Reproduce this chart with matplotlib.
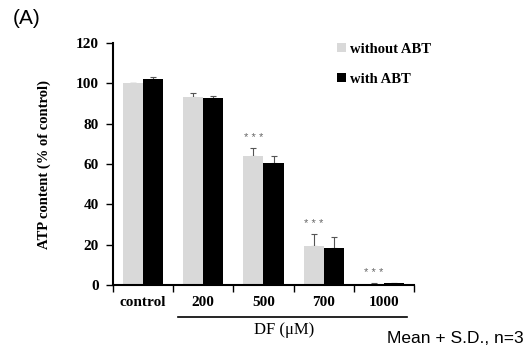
import numpy as np
import matplotlib
matplotlib.use("Agg")
import matplotlib.pyplot as plt

groups = ['control', '200', '500', '700', '1000']
without_abt = [100.0, 93.5, 64.0, 19.3, 0.7]
without_err = [0.4, 2.0, 3.8, 6.0, 0.5]
with_abt = [102.0, 92.6, 60.5, 18.2, 0.8]
with_err = [1.0, 1.0, 3.4, 5.5, 0.3]
stars = ['', '', '* * *', '* * *', '* * *']

serif = 'Liberation Serif'
sans = 'Liberation Sans'

fig = plt.figure(figsize=(5.28, 3.48), dpi=100)
ax = fig.add_axes([0.214, 0.181, 0.570, 0.695])

x = np.arange(len(groups))
w = 1/3.
ax.bar(x - w/2, without_abt, w, color='#d9d9d9', label='without ABT', zorder=2)
ax.bar(x + w/2, with_abt, w, color='black', label='with ABT', zorder=2)
ax.errorbar(x - w/2, without_abt, yerr=[np.zeros(5), without_err], fmt='none',
            ecolor='#555555', elinewidth=0.8, capsize=2.5, capthick=0.8, zorder=1)
ax.errorbar(x + w/2, with_abt, yerr=[np.zeros(5), with_err], fmt='none',
            ecolor='#555555', elinewidth=0.8, capsize=2.5, capthick=0.8, zorder=1)

for i in range(len(groups)):
    if stars[i]:
        ax.text(x[i] - w/2, without_abt[i] + without_err[i] + 2.5, stars[i], ha='center', va='bottom',
                fontsize=8, color='#666666', family=sans)

ax.set_xlim(-0.5, 4.5)
ax.set_ylim(0, 120)
ax.set_yticks(np.arange(0, 121, 20))
ax.set_xticks(np.arange(-0.5, 4.6, 1))
ax.set_xticklabels([])
ax.set_xticks(x, minor=True)
ax.set_xticklabels(groups, minor=True, fontsize=11, fontweight='bold', family=serif)
ax.tick_params(axis='x', which='minor', length=0, pad=8)
ax.tick_params(axis='x', which='major', length=5, width=1)
ax.tick_params(axis='y', length=5, width=1, pad=5)
for lab in ax.get_yticklabels():
    lab.set_fontsize(11)
    lab.set_fontweight('bold')
    lab.set_family(serif)
ax.spines['top'].set_visible(False)
ax.spines['right'].set_visible(False)
ax.spines['left'].set_linewidth(1.5)
ax.spines['bottom'].set_linewidth(1.5)

ax.set_ylabel('ATP content (% of control)', fontsize=10.5, fontweight='bold', family=serif)
ax.yaxis.set_label_coords(-0.205, 0.5)

ax.plot([0.58, 4.38], [-0.131, -0.131], color='black', lw=1.2,
        transform=ax.get_xaxis_transform(), clip_on=False)
ax.text(2.35, -0.185, 'DF (\u03bcM)', transform=ax.get_xaxis_transform(), ha='center', va='center',
        fontsize=12, family=serif)

leg = ax.legend(loc='upper left', bbox_to_anchor=(0.702, 1.055), frameon=False,
                handlelength=0.6, handleheight=0.6, handletextpad=0.25, labelspacing=1.15,
                prop={'family': serif, 'weight': 'bold', 'size': 10.5})

fig.text(0.025, 0.948, '(A)', fontsize=15, family=sans, va='center', ha='left')
fig.text(0.733, 0.026, 'Mean + S.D., n=3', fontsize=12.5, family=sans, va='center', ha='left')

fig.savefig('out.png', dpi=100)
